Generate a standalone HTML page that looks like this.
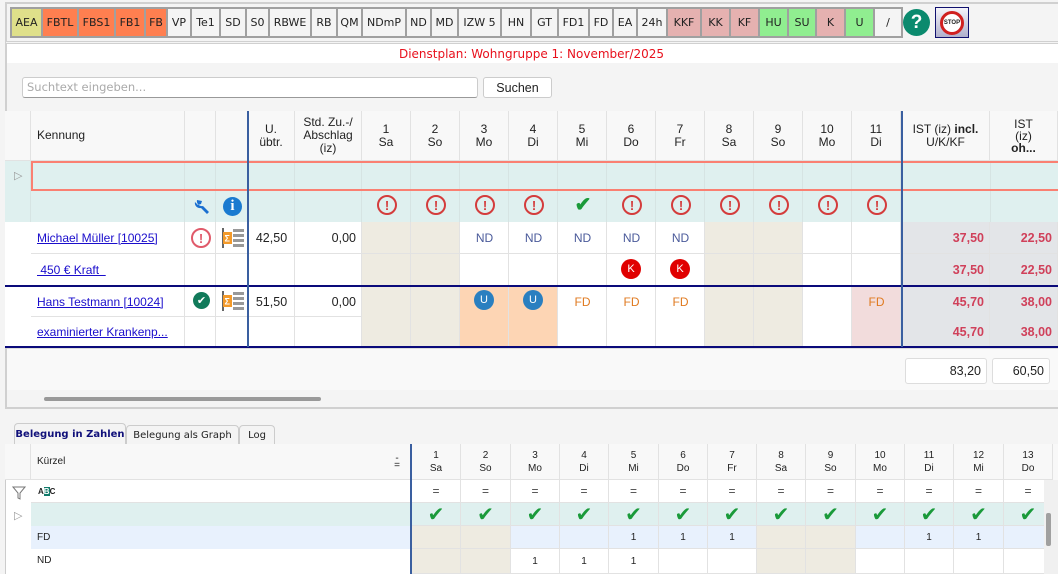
<!DOCTYPE html>
<html><head><meta charset="utf-8">
<style>
*{box-sizing:border-box;margin:0;padding:0}
body{width:1058px;height:574px;overflow:hidden;background:#f4f4f4;font-family:"Liberation Sans",Verdana,sans-serif;font-size:12px;color:#222;position:relative}
.a{position:absolute}
.c{display:flex;align-items:center;justify-content:center;text-align:center}
.btn{position:absolute;top:7px;height:31px;border:2px solid #a0a0a0;display:flex;align-items:center;justify-content:center;font-size:11px;font-family:"DejaVu Sans",sans-serif;color:#222;background:#f4f4f4}
.lnk{color:#1a0dcc;text-decoration:underline}
.circ{width:20px;height:20px;border-radius:50%;border:2px solid #d43c3c;color:#d43c3c;font-weight:bold;font-size:13px;display:flex;align-items:center;justify-content:center}
</style></head><body>
<div class="a" style="left:5px;top:2px;width:1053px;height:42px;border-top:2px solid #d0d0d0;border-bottom:3px double #d0d0d0;border-left:2px solid #d0d0d0;background:#f4f4f4"></div>
<div class="a c" style="left:903px;top:9px;width:27px;height:27px;border-radius:50%;background:#0b8a6e;color:#fff;font-weight:bold;font-size:19px">?</div>
<div class="a c" style="left:935px;top:7px;width:34px;height:31px;border:1px solid #10106e;background:linear-gradient(#f4f4fa,#b0b0cc)"><div class="c" style="width:24px;height:24px;border-radius:50%;border:3px solid #d02020;background:#fff;font-size:6px;font-weight:bold">STOP</div></div>
<div class="a" style="left:5px;top:44px;width:1053px;height:19px;background:#fff;border-left:2px solid #d0d0d0"></div>
<div class="a c" style="left:5px;top:44px;width:1053px;height:19px;color:#e8101c;font-size:12px;font-family:'DejaVu Sans',sans-serif">Dienstplan: Wohngruppe 1: November/2025</div>
<div class="a" style="left:5px;top:63px;width:1053px;height:346px;border-left:2px solid #d0d0d0;border-bottom:2px solid #d0d0d0;background:#f4f4f4"></div>
<div class="a" style="left:22px;top:77px;width:456px;height:21px;background:#fff;border:1px solid #ccc;border-bottom:1px solid #999;border-radius:3px;color:#aaa;padding:2px 4px;font-family:'DejaVu Sans',sans-serif;font-size:11.5px">Suchtext eingeben...</div>
<div class="a c" style="left:483px;top:77px;width:69px;height:21px;background:#fff;border:1px solid #ccc;border-radius:3px;font-size:12.5px">Suchen</div>
<script>
var toolbarLabels=["AEA","FBTL","FBS1","FB1","FB","VP","Te1","SD","S0","RBWE","RB","QM","NDmP","ND","MD","IZW 5","HN","GT","FD1","FD","EA","24h","KKF","KK","KF","HU","SU","K","U","/"];
var toolbarEdges=[10,41,77,114,144,166,190,219,245,268,310,336,361,405,430,457,500,530,557,588,612,636,666,700,729,758,787,815,844,873,901];
var toolbarColors={AEA:"#dfe08a",FBTL:"#ff7f50",FBS1:"#ff7f50",FB1:"#ff7f50",FB:"#ff7f50",KKF:"#e5b1b0",KK:"#e5b1b0",KF:"#e5b1b0",K:"#e5b1b0",HU:"#90ee90",SU:"#90ee90",U:"#90ee90"};
var days=["1","2","3","4","5","6","7","8","9","10","11","12","13"];
var weekdays=["Sa","So","Mo","Di","Mi","Do","Fr","Sa","So","Mo","Di","Mi","Do"];
var statusTop=["x","x","x","x","ok","x","x","x","x","x","x"];
var michaelRow=["","","ND","ND","ND","ND","ND","","","",""];
var kraftRow=["","","","","","K","K","","","",""];
var hansRow=["","","U","U","FD","FD","FD","","","","FD"];
var fdCounts=["","","","","1","1","1","","","","1","1",""];
var ndCounts=["","","1","1","1","","","","","","","",""];

function box(x,y,w,h,css,txt,name,inter){
  var el=document.createElement('div');
  el.className='a';
  el.style.cssText='left:'+x+'px;top:'+y+'px;width:'+w+'px;height:'+h+'px;'+(css||'');
  if(txt!==undefined&&txt!==null)el.innerHTML=txt;
  
  
  document.body.appendChild(el);
  return el;
}
for(var i=0;i<toolbarLabels.length;i++){
  var el=box(toolbarEdges[i],7,toolbarEdges[i+1]-toolbarEdges[i]+2,31,'','', 'toolbar-button',true);
  el.className='btn';
  el.textContent=toolbarLabels[i];
  el.style.background=toolbarColors[toolbarLabels[i]]||'#f4f4f4';
}
var G='border-right:1px solid #e2e2e2;border-bottom:1px solid #e2e2e2;';
var colX=[5,31,185,216,248,295,362];
var dayW=49,day0=362,nDays=11;
function dx(i){return day0+i*dayW;}
box(5,111,1053,50,'background:#f8f8f8;','', 'grid-header',false);
var hdr=[["",""],["Kennung","left"],["",""],["",""],["U.<br>übtr.",""],["Std. Zu.-/<br>Abschlag<br>(iz)",""]];
for(var i=0;i<hdr.length;i++){
  box(colX[i],111,colX[i+1]-colX[i],50,G+'display:flex;align-items:center;line-height:13px;'+(hdr[i][1]=='left'?'padding-left:6px;':'justify-content:center;text-align:center;'),'<div>'+hdr[i][0]+'</div>','column-header',true);
}
for(var d=0;d<nDays;d++){
  box(dx(d),111,dayW,50,G+'display:flex;align-items:center;justify-content:center;text-align:center;line-height:13px;','<div>'+days[d]+'<br>'+weekdays[d]+'</div>','day-header',true);
}
box(902,111,88,50,G+'display:flex;align-items:center;justify-content:center;text-align:center;line-height:13px;','<div>IST (iz) <b>incl.</b><br>U/K/KF</div>','ist-incl-header',true);
box(990,111,68,50,G+'display:flex;align-items:center;justify-content:center;text-align:center;line-height:12px;','<div>IST<br>(iz)<br><b>oh...</b></div>','ist-ohne-header',true);
box(5,161,1053,61,'background:#dff0ef;','', 'summary-rows',false);
box(5,222,1053,125,'background:#fff;','', 'employee-rows',false);
function wk(d){return weekdays[d]=='Sa'||weekdays[d]=='So';}
var rowsEmp=[[222,32],[254,32],[287,30],[316,31]];
for(var r=0;r<4;r++){
  for(var c=1;c<6;c++) box(colX[c],rowsEmp[r][0],colX[c+1]-colX[c],rowsEmp[r][1],G,'', 'cell',true);
  for(var d=0;d<nDays;d++){
    var bg=wk(d)?'#eeebe1':'#fff';
    if(r>=2&&hansRow[d]=='U')bg='#fdd5b4';
    if(r>=2&&d==10)bg='#f2dcdc';
    box(dx(d),rowsEmp[r][0],dayW,rowsEmp[r][1],G+'background:'+bg+';','', 'day-cell',true);
  }
  box(902,rowsEmp[r][0],88,rowsEmp[r][1],G+'background:#e3e5e8;','', 'ist-cell',false);
  box(990,rowsEmp[r][0],68,rowsEmp[r][1],G+'background:#e3e5e8;','', 'ist-cell',false);
}
for(var c=1;c<colX.length;c++){box(colX[c]-1,161,1,61,'background:#d6e4e3;','', 'grid-line',false);}
for(var d=0;d<=nDays;d++){box(dx(d)-1,161,1,61,'background:#d6e4e3;','', 'grid-line',false);}
box(990,161,1,61,'background:#d6e4e3;','', 'grid-line',false);
box(31,190,1027,1,'background:#d6e4e3;','', 'grid-line',false);
box(31,161,1027,30,'border:2px solid #fa8072;border-right:none;','', 'selected-row',true);
box(14,169,12,14,'color:#999;font-size:11px;','&#9655;','row-indicator',false);
box(194,198,18,18,'','<svg width="18" height="18" viewBox="0 0 18 18"><path d="M3 2a5 5 0 0 0 6 6l6 6-2 2-6-6a5 5 0 0 1-6-6l3 3 3-1 1-3z" fill="#1a6fd0"/></svg>','wrench-icon',true);
box(223,197,19,19,'border-radius:50%;background:#1a7ad0;color:#fff;font-weight:bold;font-family:serif;font-size:15px;display:flex;align-items:center;justify-content:center;','i','info-icon',true);
for(var d=0;d<nDays;d++){
  if(statusTop[d]=='ok') box(dx(d)+14,195,22,20,'color:#1a9a3a;font-size:20px;font-weight:bold;line-height:20px;text-align:center;','&#10004;','status-ok',false);
  else box(dx(d)+15,195,20,20,'','<div class="circ">!</div>','status-warning',false);
}
box(31,222,154,32,'display:flex;align-items:center;padding-left:6px;','<span class="lnk">Michael Müller [10025]</span>','employee-name',true);
box(31,254,154,32,'display:flex;align-items:center;padding-left:6px;','<span class="lnk">&nbsp;450 € Kraft&nbsp;&nbsp;</span>','employee-role',true);
box(31,287,154,30,'display:flex;align-items:center;padding-left:6px;','<span class="lnk">Hans Testmann [10024]</span>','employee-name',true);
box(31,316,154,31,'display:flex;align-items:center;padding-left:6px;','<span class="lnk">examinierter Krankenp...</span>','employee-role',true);
box(191,228,20,20,'','<div class="circ" style="border-color:#e05a6a;color:#e05a6a">!</div>','employee-warning',false);
box(193,292,17,17,'border-radius:50%;background:#117a5a;color:#fff;font-size:11px;display:flex;align-items:center;justify-content:center;','&#10004;','employee-ok',false);
for(var k=0;k<2;k++){
  var yy=k?290:227;
  box(221,yy,24,22,'','<svg width="24" height="22"><rect x="1" y="1" width="2" height="20" fill="#666"/><rect x="2" y="5" width="9" height="12" fill="#f39a2a"/><text x="3.5" y="14.5" font-size="9" fill="#fff" font-weight="bold">Σ</text><rect x="12" y="2" width="11" height="3" fill="#999"/><rect x="12" y="7" width="11" height="3" fill="#999"/><rect x="12" y="12" width="11" height="3" fill="#999"/><rect x="12" y="17" width="11" height="3" fill="#999"/></svg>','sum-icon',true);
}
box(248,222,47,32,'display:flex;align-items:center;justify-content:center;font-size:12.5px;','42,50','u-uebtr',false);
box(295,222,67,32,'display:flex;align-items:center;justify-content:flex-end;padding-right:6px;font-size:12.5px;','0,00','std-zuschlag',false);
box(248,287,47,30,'display:flex;align-items:center;justify-content:center;font-size:12.5px;','51,50','u-uebtr',false);
box(295,287,67,30,'display:flex;align-items:center;justify-content:flex-end;padding-right:6px;font-size:12.5px;','0,00','std-zuschlag',false);
for(var d=0;d<nDays;d++){
  if(michaelRow[d]) box(dx(d),222,dayW,32,'display:flex;align-items:center;justify-content:center;color:#4a5a9a;font-size:12px;',michaelRow[d],'shift-entry',true);
  if(kraftRow[d]) box(dx(d)+14,259,20,20,'border-radius:50%;background:#e00000;color:#fff;font-size:11px;display:flex;align-items:center;justify-content:center;',kraftRow[d],'sick-marker',true);
  if(hansRow[d]=='U') box(dx(d)+14,290,20,20,'border-radius:50%;background:#2a7fc0;color:#fff;font-size:11px;display:flex;align-items:center;justify-content:center;','U','vacation-marker',true);
  else if(hansRow[d]) box(dx(d),287,dayW,30,'display:flex;align-items:center;justify-content:center;color:#e07a20;font-size:12px;',hansRow[d],'shift-entry',true);
}
var istA=["37,50","37,50","45,70","45,70"],istB=["22,50","22,50","38,00","38,00"];
for(var r=0;r<4;r++){
  box(902,rowsEmp[r][0],88,rowsEmp[r][1],'display:flex;align-items:center;justify-content:flex-end;padding-right:6px;color:#d0405a;font-weight:bold;font-size:12.5px;',istA[r],'ist-incl-value',false);
  box(990,rowsEmp[r][0],68,rowsEmp[r][1],'display:flex;align-items:center;justify-content:flex-end;padding-right:6px;color:#d0405a;font-weight:bold;font-size:12.5px;',istB[r],'ist-ohne-value',false);
}
box(5,285,1053,2,'background:#0a0a7a;','', 'group-separator',false);
box(5,346,1053,2,'background:#0a0a7a;','', 'group-separator',false);
box(247,111,2,236,'background:#3a5fa0;','', 'frozen-divider',false);
box(901,111,2,236,'background:#3a5fa0;','', 'frozen-divider',false);
box(7,348,1051,42,'background:#f9f9f9;border-top:1px solid #ddd;','', 'grid-footer',false);
box(905,358,82,26,'background:#fff;border:1px solid #ddd;border-radius:3px;display:flex;align-items:center;justify-content:flex-end;padding-right:5px;font-size:12.5px;','83,20','total-incl',false);
box(992,358,58,26,'background:#fff;border:1px solid #ddd;border-radius:3px;display:flex;align-items:center;justify-content:flex-end;padding-right:5px;font-size:12.5px;','60,50','total-ohne',false);
box(44,397,277,4,'background:#999;border-radius:2px;','', 'h-scrollbar',true);
var TF='font-size:10px;font-family:DejaVu Sans,sans-serif;white-space:nowrap;';
box(14,423,112,21,'background:#f4f4f4;border:1px solid #ccc;border-bottom:none;border-radius:4px 4px 0 0;display:flex;align-items:center;justify-content:center;color:#10107a;font-weight:bold;'+TF,'Belegung in Zahlen','tab-zahlen',true);
box(126,425,113,19,'background:#f4f4f4;border:1px solid #ccc;border-bottom:none;border-radius:4px 4px 0 0;display:flex;align-items:center;justify-content:center;'+TF,'Belegung als Graph','tab-graph',true);
box(239,425,36,19,'background:#f4f4f4;border:1px solid #ccc;border-bottom:none;border-radius:4px 4px 0 0;display:flex;align-items:center;justify-content:center;'+TF,'Log','tab-log',true);
box(5,444,1053,130,'background:#fff;border-left:1px solid #ccc;border-top:1px solid #ccc;','', 'bottom-grid',false);
box(5,444,1053,36,'background:#f8f8f8;','', 'bottom-header',false);
box(31,503,1013,23,'background:#dff0ef;','', 'status-row',false);
box(31,526,1013,23,'background:#e8f1fd;','', 'fd-row',false);
box(5,444,26,36,G,'', 'cell',false);
box(31,444,381,36,G+'display:flex;align-items:center;padding-left:6px;font-size:10px;','Kürzel','kuerzel-header',true);
box(390,455,14,12,'font-size:10px;text-align:center;line-height:7px;','-<br>=','sort-icon',true);
box(12,486,14,14,'','<svg width="14" height="14"><path d="M1 1h12l-5 6v6l-2-1V7z" fill="none" stroke="#777"/></svg>','filter-icon',true);
box(38,487,18,10,'font-size:8px;font-weight:bold;','<span>A</span><span style="background:#117a6a;color:#fff">B</span><span>C</span>','text-filter-icon',true);
box(14,509,12,14,'color:#999;font-size:11px;','&#9655;','row-indicator',false);
box(31,480,381,23,G,'', 'cell',false);
box(37,526,100,23,'display:flex;align-items:center;font-size:10px;','FD','code-fd',false);
box(37,549,100,23,'display:flex;align-items:center;font-size:10px;','ND','code-nd',false);
var bW=49.3,b0=412;
for(var d=0;d<days.length;d++){
  var x=Math.round(b0+d*bW),w=Math.round(b0+(d+1)*bW)-x;
  box(x,444,w,36,G+'display:flex;align-items:center;justify-content:center;text-align:center;font-size:10px;line-height:13px;','<div>'+days[d]+'<br>'+weekdays[d]+'</div>','day-header',true);
  box(x,480,w,23,G+'display:flex;align-items:center;justify-content:center;color:#444;font-size:12px;','=','day-filter',true);
  box(x,503,w,23,G+'display:flex;align-items:center;justify-content:center;color:#1a9a3a;font-size:20px;','&#10004;','day-status',false);
  var bg1=wk(d)?'background:#eeebe1;':'';
  box(x,526,w,23,G+bg1+'display:flex;align-items:center;justify-content:center;font-size:10px;',fdCounts[d],'fd-count',false);
  box(x,549,w,25,G+bg1+'display:flex;align-items:center;justify-content:center;font-size:10px;',ndCounts[d],'nd-count',false);
}
box(410,444,2,130,'background:#3a5fa0;','', 'frozen-divider',false);
box(1044,480,14,94,'background:#f0f0f0;','', 'v-scrollbar',true);
box(1046,513,5,33,'background:#a0a0a0;border-radius:2px;','', 'v-scrollbar-thumb',true);
</script>
</body></html>
